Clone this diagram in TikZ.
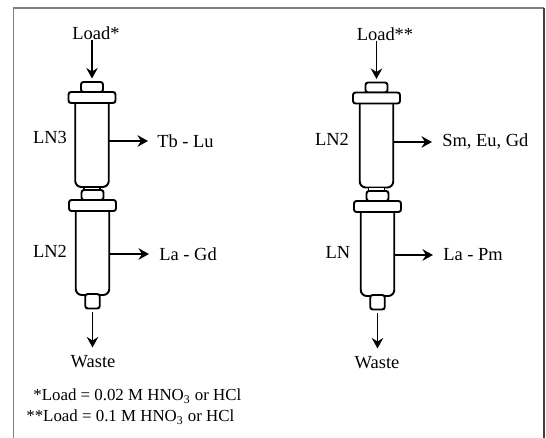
\documentclass[tikz,border=0pt]{standalone}
\usepackage{fontspec}
\setmainfont{Liberation Serif}
\usetikzlibrary{arrows.meta,positioning}
\tikzset{
    part/.style={rectangle, draw, fill=white, line width=1.1pt, rounded corners=0.05cm, inner sep=0pt, outer sep=0pt},
    body/.style={part, minimum width=0.67cm, minimum height=1.9cm, rounded corners=0.12cm},
    flange/.style={part, minimum width=0.94cm, minimum height=0.22cm},
    topcap/.style={part, minimum width=0.44cm, minimum height=0.2cm},
    neck/.style={part, minimum width=0.32cm, minimum height=0.06cm, rounded corners=0pt, line width=0.7pt},
    outlet/.style={part, minimum width=0.29cm, minimum height=0.29cm},
    flow/.style={-{Stealth[length=2.1mm, width=2.3mm, inset=0.7mm]}, line width=1.1pt},
    lab/.style={font=\fontsize{10.5pt}{12pt}\selectfont, inner sep=0pt},
    note/.style={font=\fontsize{9.6pt}{12pt}\selectfont, inner sep=0pt, anchor=west}
}
\begin{document}
\begin{tikzpicture}[x=0.02cm, y=-0.02cm]
    \useasboundingbox (0,0) rectangle (546,438);
    \draw [gray, line width=0.8pt] (13.5,438) -- (13.5,8) -- (544,8);
    \draw [black!75, line width=0.6pt] (544,8) -- (544,438);

    % left pair of columns
    \node [body] (bodya) at (92,139.5) {};
    \node [topcap, above=0cm of bodya] (capa) {};
    \node [flange, above=-0.22cm of bodya] (flangea) {};
    \node [neck, below=0cm of bodya] (necka) {};
    \node [body] (bodyb) at (92.5,247.5) {};
    \node [topcap, above=0cm of bodyb] (capb) {};
    \node [flange, above=-0.22cm of bodyb] (flangeb) {};
    \node [outlet, below=-0.02cm of bodyb] (outb) {};

    % right pair of columns
    \node [body] (bodyc) at (376.5,140) {};
    \node [topcap, above=0cm of bodyc] (capc) {};
    \node [flange, above=-0.22cm of bodyc] (flangec) {};
    \node [neck, below=0cm of bodyc] (neckc) {};
    \node [body] (bodyd) at (377.5,248.5) {};
    \node [topcap, above=0cm of bodyd] (capd) {};
    \node [flange, above=-0.22cm of bodyd] (flanged) {};
    \node [outlet, below=-0.02cm of bodyd] (outd) {};

    % labels
    \node [lab] (loada) at (96,33) {Load*};
    \node [lab] (loadc) at (385,34) {Load**};
    \node [lab] (lnc) at (50,137) {LN3};
    \node [lab] (lnb) at (50,251) {LN2};
    \node [lab] (lnd) at (332,139) {LN2};
    \node [lab] (lne) at (338,252) {LN};
    \node [lab] (wasteb) at (93,362) {Waste};
    \node [lab] (wasted) at (377,363) {Waste};

    \coordinate (outa) at (148,141);
    \coordinate (outbb) at (149,254);
    \coordinate (outc) at (432,142);
    \coordinate (outdd) at (433,255);
    \node [lab, right=0.18cm of outa] (tb) {Tb - Lu};
    \node [lab, right=0.2cm of outbb] (la) {La - Gd};
    \node [lab, right=0.2cm of outc] (sm) {Sm, Eu, Gd};
    \node [lab, right=0.2cm of outdd] (pm) {La - Pm};

    \node [note] (notea) at (33,396) {*Load = 0.02 M HNO\textsubscript{3} or HCl};
    \node [note] (noteb) at (26,417) {**Load = 0.1 M HNO\textsubscript{3} or HCl};

    \draw [flow] (loada.south -| capa) -- ([yshift=0.07cm]capa.north);
    \draw [flow] (loadc.south -| capc) -- ([yshift=0.07cm]capc.north);
    \draw [flow] (bodya.east |- outa) -- (outa);
    \draw [flow] (bodyb.east |- outbb) -- (outbb);
    \draw [flow] (bodyc.east |- outc) -- (outc);
    \draw [flow] (bodyd.east |- outdd) -- (outdd);
    \draw [flow, shorten >=0.16cm] ([yshift=-0.07cm]outb.south) -- (wasteb.north -| outb);
    \draw [flow, shorten >=0.16cm] ([yshift=-0.07cm]outd.south) -- (wasted.north -| outd);
\end{tikzpicture}
\end{document}
